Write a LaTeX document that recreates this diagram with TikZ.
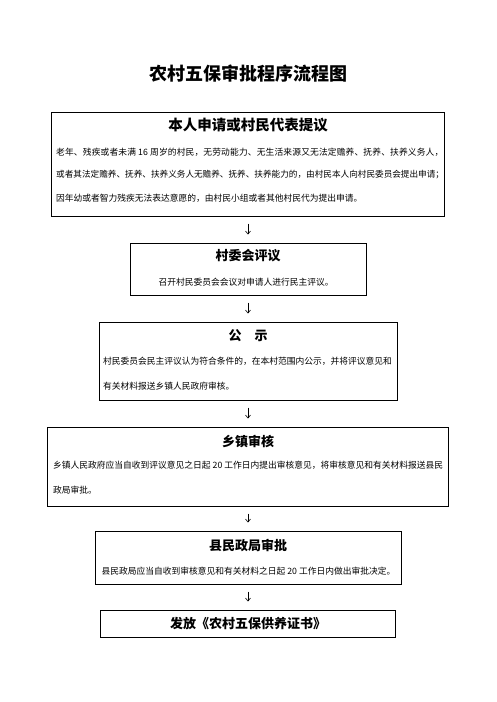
\documentclass[tikz,border=0pt]{standalone}
\usepackage{fontspec}
\setmainfont{Noto Sans CJK SC}
\usetikzlibrary{arrows.meta}
\tikzset{
  box/.style={draw, line width=1pt, inner sep=0pt},
  body/.style={inner sep=0pt, font=\fontsize{8.75}{10}\selectfont},
  head/.style={inner sep=0pt, font=\fontsize{13}{15}\selectfont\bfseries},
  arr/.style={line width=0.6pt, -{Straight Barb[length=3pt,width=5pt]}, shorten <=7pt, shorten >=8pt}
}
\begin{document}
\begin{tikzpicture}[x=1pt,y=-1pt]
\useasboundingbox (0,0) rectangle (496,702);
\node[inner sep=0pt, font=\fontsize{18}{20}\selectfont\bfseries] (title) at (248,74) {农村五保审批程序流程图};

\node[box, minimum width=393pt, minimum height=104pt] (b1) at (248,164) {};
\node[head, font=\fontsize{14.5}{16}\selectfont\bfseries] (t1) at (248,125) {本人申请或村民代表提议};
\node[body, anchor=west] (l11) at (56,152) {\addfontfeatures{LetterSpace=1.6}老年、残疾或者未满 16 周岁的村民，无劳动能力、无生活来源又无法定赡养、抚养、扶养义务人，};
\node[body, anchor=west, font=\fontsize{8.62}{10}\selectfont] (l12) at (56,175) {或者其法定赡养、抚养、扶养义务人无赡养、抚养、扶养能力的，由村民本人向村民委员会提出申请；};
\node[body, anchor=west] (l13) at (56,198) {因年幼或者智力残疾无法表达意愿的，由村民小组或者其他村民代为提出申请。};

\node[box, minimum width=236pt, minimum height=52pt] (b2) at (248,269) {};
\node[head] (t2) at (248,256) {村委会评议};
\node[body] (l21) at (246,282) {召开村民委员会会议对申请人进行民主评议。};

\node[box, minimum width=298pt, minimum height=78pt] (b3) at (248,361) {};
\node[head] (t3) at (248,336) {公　示};
\node[body, anchor=west] (l31) at (103,361) {村民委员会民主评议认为符合条件的，在本村范围内公示，并将评议意见和};
\node[body, anchor=west] (l32) at (103,386) {有关材料报送乡镇人民政府审核。};

\node[box, minimum width=401pt, minimum height=79pt] (b4) at (248,466.5) {};
\node[head] (t4) at (248,441) {乡镇审核};
\node[body, anchor=west] (l41) at (53,465) {乡镇人民政府应当自收到评议意见之日起 20 工作日内提出审核意见，将审核意见和有关材料报送县民};
\node[body, anchor=west] (l42) at (53,490) {政局审批。};

\node[box, minimum width=306pt, minimum height=53pt] (b5) at (248,557.5) {};
\node[head] (t5) at (248,545) {县民政局审批};
\node[body] (l51) at (248.5,571) {县民政局应当自收到审核意见和有关材料之日起 20 工作日内做出审批决定。};

\node[box, minimum width=295pt, minimum height=27pt] (b6) at (248,623.5) {};
\node[head] (t6) at (248,623.5) {发放《农村五保供养证书》};

\draw[arr] (b1) -- (b2);
\draw[arr] (b2) -- (b3);
\draw[arr] (b3) -- (b4);
\draw[arr] (b4) -- (b5);
\draw[arr] (b5) -- (b6);
\end{tikzpicture}
\end{document}
